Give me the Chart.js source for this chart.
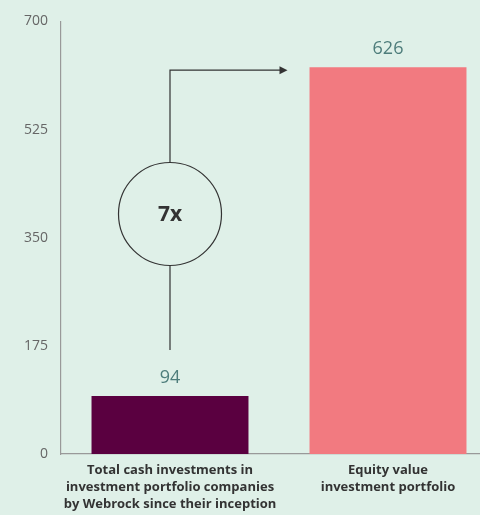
<!DOCTYPE html>
<html>
<head>
<meta charset="utf-8">
<script src="https://cdn.jsdelivr.net/npm/chart.js@4/dist/chart.umd.min.js"></script>
<style>
  html, body { margin: 0; padding: 0; background: #dff0e8; overflow: hidden; }
  #wrap { width: 497px; height: 515px; }
</style>
</head>
<body>
<div id="wrap"><canvas id="chart"></canvas></div>
<script>
// chart data
const categories = [
    ["Total cash investments in", "investment portfolio companies", "by Webrock since their inception"],
    ["Equity value", "investment portfolio"]
];
const values = [94, 626];
const barColors = ["#5a0040", "#f27a80"];
const yTicks = [0, 175, 350, 525, 700];
const multipleLabel = "7x";

// value labels above bars
const valueLabels = {
    id: "valueLabels",
    afterDatasetsDraw(chart) {
        const ctx = chart.ctx;
        const meta = chart.getDatasetMeta(0);
        ctx.save();
        ctx.font = "18px 'Open Sans'";
        ctx.fillStyle = "#4e7d7b";
        ctx.textAlign = "center";
        ctx.textBaseline = "middle";
        meta.data.forEach((bar, i) => {
            ctx.fillText(String(values[i]), bar.x, bar.y - 18);
        });
        ctx.restore();
    }
};

// circle + arrow connecting the two bars
const multipleArrow = {
    id: "multipleArrow",
    afterDatasetsDraw(chart) {
        const ctx = chart.ctx;
        const meta = chart.getDatasetMeta(0);
        const b0 = meta.data[0], b1 = meta.data[1];
        const cx = b0.x;
        const topY = b1.y + 3;
        const bottomY = b0.y - 46;
        const r = 51.5;
        const cy = (topY + bottomY) / 2 + 4;
        const tipX = b1.x - b1.width / 2 - 22;

        ctx.save();
        ctx.strokeStyle = "#333";
        ctx.fillStyle = "#333";
        ctx.lineWidth = 1.2;

        ctx.beginPath();
        ctx.moveTo(cx, bottomY);
        ctx.lineTo(cx, cy + r);
        ctx.moveTo(cx, cy - r);
        ctx.lineTo(cx, topY);
        ctx.lineTo(tipX - 6, topY);
        ctx.stroke();

        ctx.beginPath();
        ctx.arc(cx, cy, r, 0, Math.PI * 2);
        ctx.stroke();

        ctx.beginPath();
        ctx.moveTo(tipX, topY);
        ctx.lineTo(tipX - 8, topY - 4);
        ctx.lineTo(tipX - 8, topY + 4);
        ctx.closePath();
        ctx.fill();

        ctx.font = "bold 21px 'Open Sans'";
        ctx.textAlign = "center";
        ctx.textBaseline = "middle";
        ctx.fillText(multipleLabel, cx, cy + 1);
        ctx.restore();
    }
};

new Chart(document.getElementById("chart"), {
    type: "bar",
    data: {
        labels: categories,
        datasets: [{
            data: values,
            backgroundColor: barColors,
            barPercentage: 0.72,
            categoryPercentage: 1
        }]
    },
    options: {
        responsive: true,
        maintainAspectRatio: false,
        animation: false,
        layout: { padding: { top: 17, right: 0, left: 0, bottom: 0 } },
        plugins: {
            legend: { display: false },
            tooltip: { enabled: false }
        },
        scales: {
            x: {
                grid: { display: false, drawTicks: false },
                border: { color: "#999", width: 1.2 },
                ticks: {
                    color: "#333",
                    font: { family: "'Open Sans'", size: 13, weight: "bold", lineHeight: 1.3 },
                    padding: 8,
                    maxRotation: 0,
                    autoSkip: false
                },
                afterFit(scale) { scale.height = 61; }
            },
            y: {
                min: 0,
                max: 700,
                afterBuildTicks(scale) { scale.ticks = yTicks.map(v => ({ value: v })); },
                grid: { display: false, drawTicks: false },
                border: { color: "#999", width: 1.2 },
                ticks: {
                    color: "#666",
                    font: { family: "'Open Sans'", size: 14 },
                    padding: 13
                },
                afterFit(scale) { scale.width = 61; }
            }
        }
    },
    plugins: [valueLabels, multipleArrow]
});
</script>
</body>
</html>
